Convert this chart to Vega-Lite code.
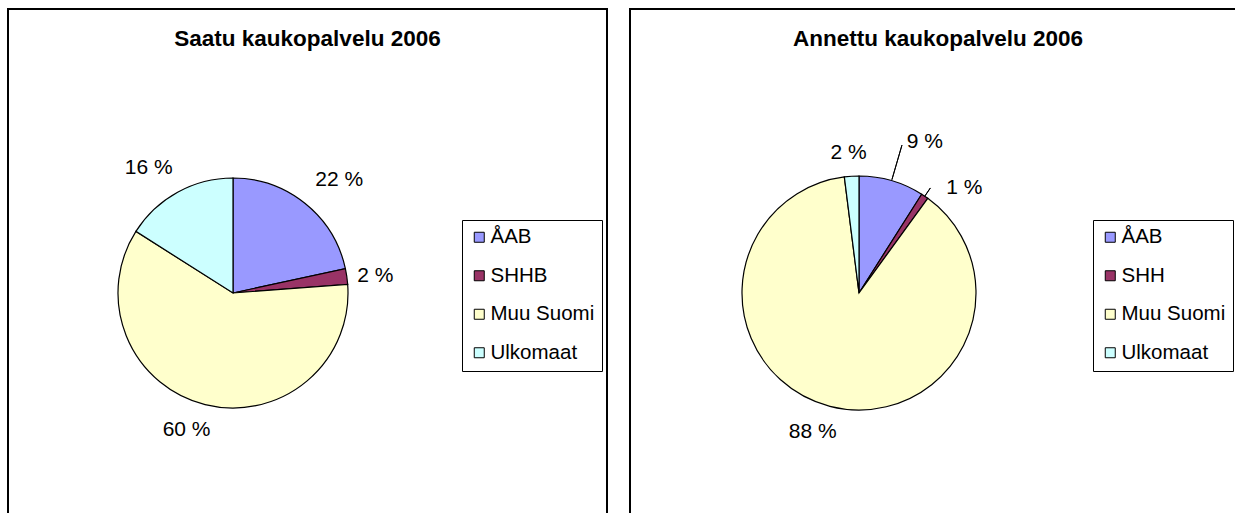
{
  "$schema": "https://vega.github.io/schema/vega-lite/v6.json",
  "padding": {"left": 7, "top": 8, "right": 0, "bottom": 0},
  "background": "white",
  "config": {
    "view": {"stroke": null},
    "font": "Liberation Sans",
    "title": {"font": "Liberation Sans", "fontSize": 22.5, "fontWeight": "bold", "color": "black", "anchor": "middle", "offset": -42},
    "text": {"font": "Liberation Sans", "fontSize": 21, "color": "black", "align": "center", "baseline": "middle"},
    "legend": {
      "orient": "none", "title": null, "strokeColor": "black", "strokeWidth": 1, "fillColor": "white",
      "padding": 7, "symbolType": "square", "symbolSize": 100, "symbolStrokeColor": "black", "symbolStrokeWidth": 1,
      "symbolOpacity": 1, "labelFont": "Liberation Sans", "labelFontSize": 20.5, "labelColor": "black", "rowPadding": 17.5, "labelOffset": 1
    }
  },
  "datasets": {
    "frame": [{"panel": "frame"}],
    "saatu": [
      {"cat": "ÅAB", "v": 21.6, "label": "22 %", "i": 1},
      {"cat": "SHHB", "v": 2.2, "label": "2 %", "i": 2},
      {"cat": "Muu Suomi", "v": 60.2, "label": "60 %", "i": 3},
      {"cat": "Ulkomaat", "v": 16.0, "label": "16 %", "i": 4}
    ],
    "annettu": [
      {"cat": "ÅAB", "v": 9, "label": "9 %", "i": 1},
      {"cat": "SHH", "v": 1, "label": "1 %", "i": 2},
      {"cat": "Muu Suomi", "v": 88, "label": "88 %", "i": 3},
      {"cat": "Ulkomaat", "v": 2, "label": "2 %", "i": 4}
    ]
  },
  "spacing": 21,
  "resolve": {"scale": {"color": "independent", "theta": "independent"}, "legend": {"color": "independent"}},
  "hconcat": [
    {
      "width": 599, "height": 515,
      "title": {"text": "Saatu kaukopalvelu 2006"},
      "layer": [
        {
          "data": {"name": "frame"},
          "mark": {"type": "rect", "x": 0, "y": 0, "x2": "width", "y2": "height", "fill": null, "filled": false, "stroke": "black", "strokeWidth": 2},
          "encoding": {}
        },
        {
          "data": {"name": "saatu"},
          "encoding": {
            "theta": {"field": "v", "type": "quantitative", "stack": true},
            "order": {"field": "i", "type": "quantitative"},
            "detail": {"field": "cat", "type": "nominal"}
          },
          "layer": [
            {
              "mark": {"type": "arc", "x": 225, "y": 284, "stroke": "black", "strokeWidth": 1.2, "outerRadius": 115},
              "encoding": {
                "color": {"field": "cat", "type": "nominal",
                  "scale": {"domain": ["ÅAB", "SHHB", "Muu Suomi", "Ulkomaat"], "range": ["#9999FF", "#993366", "#FFFFCC", "#CCFFFF"]},
                  "legend": {"legendX": 454, "legendY": 211}}
              }
            },
            {"mark": {"type": "text", "x": 225, "y": 284, "dx": 12, "dy": 4}, "encoding": {"radius": {"value": 150}, "text": {"condition": {"test": "datum.cat === 'ÅAB'", "field": "label"}, "value": ""}}},
            {"mark": {"type": "text", "x": 225, "y": 284, "dx": -6, "dy": 5}, "encoding": {"radius": {"value": 150}, "text": {"condition": {"test": "datum.cat === 'SHHB'", "field": "label"}, "value": ""}}},
            {"mark": {"type": "text", "x": 225, "y": 284, "dx": -10, "dy": -9}, "encoding": {"radius": {"value": 150}, "text": {"condition": {"test": "datum.cat === 'Muu Suomi'", "field": "label"}, "value": ""}}},
            {"mark": {"type": "text", "x": 225, "y": 284, "dx": -12, "dy": 6}, "encoding": {"radius": {"value": 150}, "text": {"condition": {"test": "datum.cat === 'Ulkomaat'", "field": "label"}, "value": ""}}}
          ]
        }
      ]
    },
    {
      "width": 616, "height": 515,
      "title": {"text": "Annettu kaukopalvelu 2006"},
      "layer": [
        {
          "data": {"name": "frame"},
          "mark": {"type": "rect", "x": 0, "y": 0, "x2": "width", "y2": "height", "fill": null, "filled": false, "stroke": "black", "strokeWidth": 2},
          "encoding": {}
        },
        {
          "data": {"name": "annettu"},
          "encoding": {
            "theta": {"field": "v", "type": "quantitative", "stack": true},
            "order": {"field": "i", "type": "quantitative"},
            "detail": {"field": "cat", "type": "nominal"}
          },
          "layer": [
            {
              "mark": {"type": "arc", "x": 229, "y": 284, "stroke": "black", "strokeWidth": 1.2, "outerRadius": 117},
              "encoding": {
                "color": {"field": "cat", "type": "nominal",
                  "scale": {"domain": ["ÅAB", "SHH", "Muu Suomi", "Ulkomaat"], "range": ["#9999FF", "#993366", "#FFFFCC", "#CCFFFF"]},
                  "legend": {"legendX": 463, "legendY": 211}}
              }
            },
            {
              "mark": {"type": "arc", "x": 229, "y": 284, "fill": null, "filled": false, "stroke": "black", "strokeWidth": 1, "padAngle": 1.5},
              "encoding": {"radius": {"value": 154}, "radius2": {"value": 118},
                "strokeOpacity": {"condition": {"test": "datum.cat === 'ÅAB'", "value": 1}, "value": 0}}
            },
            {
              "mark": {"type": "arc", "x": 229, "y": 284, "fill": null, "filled": false, "stroke": "black", "strokeWidth": 1, "padAngle": 1.5},
              "encoding": {"radius": {"value": 127}, "radius2": {"value": 117},
                "strokeOpacity": {"condition": {"test": "datum.cat === 'SHH'", "value": 1}, "value": 0}}
            },
            {"mark": {"type": "text", "x": 229, "y": 284, "dx": 24, "dy": -7}, "encoding": {"radius": {"value": 150}, "text": {"condition": {"test": "datum.cat === 'ÅAB'", "field": "label"}, "value": ""}}},
            {"mark": {"type": "text", "x": 229, "y": 284, "dx": 21, "dy": 19}, "encoding": {"radius": {"value": 150}, "text": {"condition": {"test": "datum.cat === 'SHH'", "field": "label"}, "value": ""}}},
            {"mark": {"type": "text", "x": 229, "y": 284, "dx": -9, "dy": -6}, "encoding": {"radius": {"value": 150}, "text": {"condition": {"test": "datum.cat === 'Muu Suomi'", "field": "label"}, "value": ""}}},
            {"mark": {"type": "text", "x": 229, "y": 284, "dx": -1, "dy": 10}, "encoding": {"radius": {"value": 150}, "text": {"condition": {"test": "datum.cat === 'Ulkomaat'", "field": "label"}, "value": ""}}}
          ]
        }
      ]
    }
  ]
}
